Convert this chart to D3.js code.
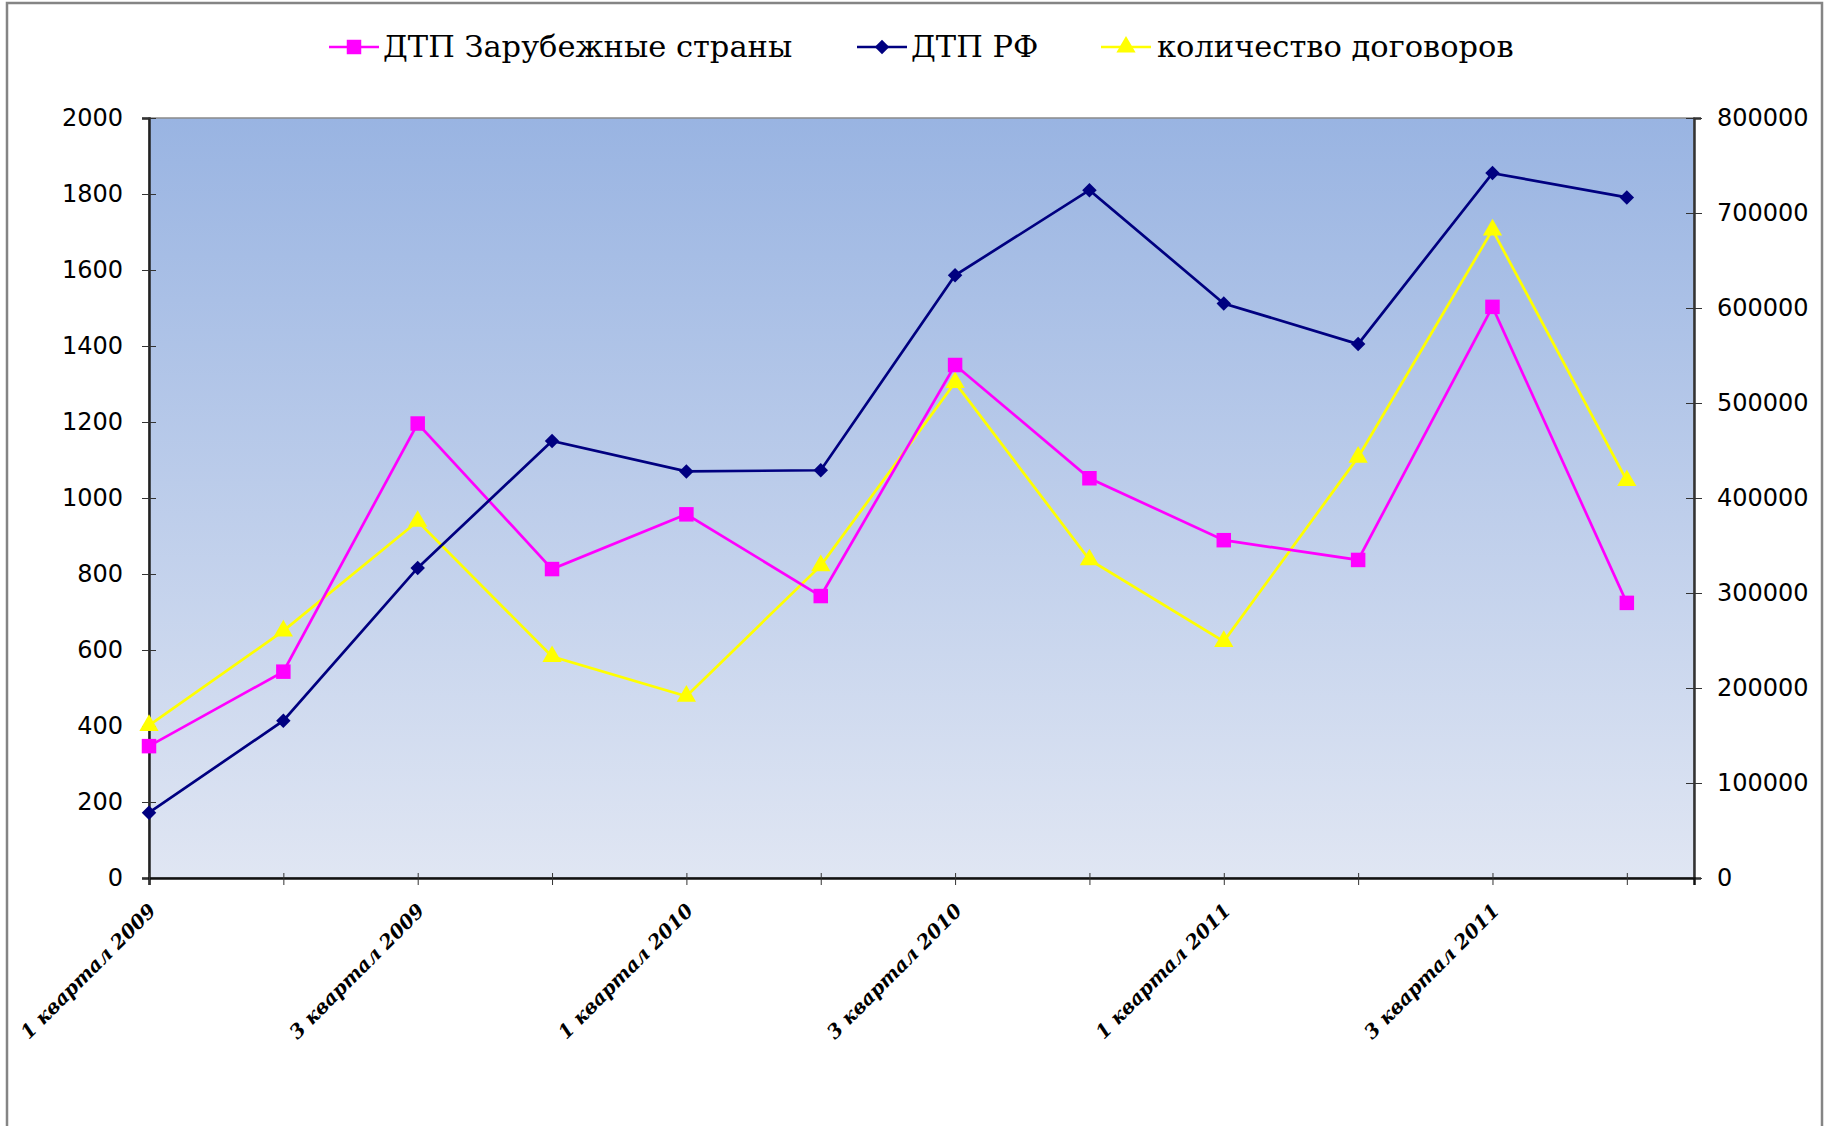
<!DOCTYPE html>
<html>
<head>
<meta charset="utf-8">
<script src="https://cdn.jsdelivr.net/npm/d3@7"></script>
<style>
  body { margin: 0; background: #fff; }
  svg { display: block; }
</style>
</head>
<body>
<div id="chart"></div>
<script>
// categories (quarters)
const kvartaly = [
    "1 квартал 2009", "2 квартал 2009", "3 квартал 2009", "4 квартал 2009",
    "1 квартал 2010", "2 квартал 2010", "3 квартал 2010", "4 квартал 2010",
    "1 квартал 2011", "2 квартал 2011", "3 квартал 2011", "4 квартал 2011"
];

// left axis series
const dtpZarubezh = [347, 543, 1196, 813, 957, 742, 1350, 1052, 889, 837, 1503, 724];
const dtpRF = [172, 414, 816, 1150, 1070, 1073, 1586, 1810, 1512, 1405, 1855, 1791];

// right axis series
const dogovory = [160700, 260100, 375500, 233100, 191400, 328800, 521500, 335000, 249100, 443000, 682200, 418400];

// tick values
const ticksLeft = [0, 200, 400, 600, 800, 1000, 1200, 1400, 1600, 1800, 2000];
const ticksRight = [0, 100000, 200000, 300000, 400000, 500000, 600000, 700000, 800000];

const W = 1829, H = 1126;
const pL = 149, pR = 1694, pT = 118, pB = 878;

const svg = d3.select("#chart")
    .append("svg")
    .attr("width", W)
    .attr("height", H);

// outer frame
svg.append("rect")
   .attr("x", 7).attr("y", 3)
   .attr("width", 1815).attr("height", 1140)
   .attr("fill", "#fff")
   .attr("stroke", "#858585")
   .attr("stroke-width", 2.5);

const defs = svg.append("defs");
const grad = defs.append("linearGradient")
    .attr("id", "bg")
    .attr("x1", 0).attr("y1", 0).attr("x2", 0).attr("y2", 1);
grad.append("stop").attr("offset", "0%").attr("stop-color", "#99b4e2");
grad.append("stop").attr("offset", "100%").attr("stop-color", "#e0e6f3");

const x = d3.scaleLinear()
    .domain([0, 11.5])
    .range([pL, pR]);

const yL = d3.scaleLinear()
    .domain([0, 2000])
    .range([pB, pT]);

const yR = d3.scaleLinear()
    .domain([0, 800000])
    .range([pB, pT]);

// plot area
svg.append("rect")
   .attr("x", pL).attr("y", pT)
   .attr("width", pR - pL).attr("height", pB - pT)
   .attr("fill", "url(#bg)")
   .attr("stroke", "#8a8a8a")
   .attr("stroke-width", 1.5);

const numFont = "'DejaVu Sans', Verdana, sans-serif";

// left axis
const axL = svg.append("g")
   .attr("transform", `translate(${pL},0)`)
   .call(d3.axisLeft(yL).tickValues(ticksLeft).tickFormat(d3.format("d")).tickSize(7).tickPadding(19));
axL.select(".domain").attr("stroke", "#222").attr("stroke-width", 2.5);
axL.selectAll(".tick line").attr("x2", 7).attr("x1", -7).attr("stroke", "#333");
axL.selectAll("text")
   .attr("font-family", numFont).attr("font-size", 24).attr("fill", "#000");

// right axis
const axR = svg.append("g")
   .attr("transform", `translate(${pR},0)`)
   .call(d3.axisRight(yR).tickValues(ticksRight).tickFormat(d3.format("d")).tickSize(7).tickPadding(16));
axR.select(".domain").attr("stroke", "#333").attr("stroke-width", 2.5);
axR.selectAll(".tick line").attr("x1", -8).attr("x2", 8).attr("stroke", "#333");
axR.selectAll("text")
   .attr("font-family", numFont).attr("font-size", 24).attr("fill", "#000");

// bottom axis
const axB = svg.append("g")
   .attr("transform", `translate(0,${pB})`)
   .call(d3.axisBottom(x).tickValues(d3.range(kvartaly.length)).tickSize(7).tickFormat(""));
axB.select(".domain").attr("stroke", "#111").attr("stroke-width", 2.5);
axB.selectAll(".tick line").attr("y1", -5).attr("y2", 7).attr("stroke", "#333");

svg.append("g")
   .selectAll("text")
   .data(kvartaly.filter((d, i) => i % 2 === 0))
   .enter()
   .append("text")
   .attr("transform", d => `translate(${x(kvartaly.indexOf(d)) + 8},${pB + 34}) rotate(-45)`)
   .attr("text-anchor", "end")
   .attr("font-family", "'DejaVu Serif', serif")
   .attr("font-weight", "bold")
   .attr("font-style", "italic")
   .attr("font-size", 19.5)
   .text(d => d);

// series
const series = [
    { name: "ДТП Зарубежные страны", values: dtpZarubezh, scale: yL, color: "#ff00ff", symbol: d3.symbolSquare, size: 210, rot: 0 },
    { name: "ДТП РФ", values: dtpRF, scale: yL, color: "#000080", symbol: d3.symbolSquare, size: 105, rot: 45 },
    { name: "количество договоров", values: dogovory, scale: yR, color: "#ffff00", symbol: d3.symbolTriangle, size: 160, rot: 0 }
];

const drawOrder = [2, 0, 1];
drawOrder.forEach(k => {
    const s = series[k];
    const line = d3.line()
        .x((d, i) => x(i))
        .y(d => s.scale(d));
    svg.append("path")
       .datum(s.values)
       .attr("d", line)
       .attr("fill", "none")
       .attr("stroke", s.color)
       .attr("stroke-width", 2.7);
    svg.append("g")
       .selectAll("path")
       .data(s.values)
       .enter()
       .append("path")
       .attr("d", d3.symbol().type(s.symbol).size(s.size))
       .attr("transform", (d, i) => `translate(${x(i)},${s.scale(d)}) rotate(${s.rot})`)
       .attr("fill", s.color);
});

// legend
const legendPos = [
    { lx: 329, tx: 383 },
    { lx: 857, tx: 911 },
    { lx: 1101, tx: 1157 }
];
const legend = svg.append("g");
series.forEach((s, k) => {
    const p = legendPos[k];
    legend.append("line")
       .attr("x1", p.lx).attr("x2", p.lx + 50)
       .attr("y1", 47).attr("y2", 47)
       .attr("stroke", s.color)
       .attr("stroke-width", 2.7);
    legend.append("path")
       .attr("d", d3.symbol().type(s.symbol).size(s.size))
       .attr("transform", `translate(${p.lx + 25},47) rotate(${s.rot})`)
       .attr("fill", s.color);
    legend.append("text")
       .attr("x", p.tx).attr("y", 57)
       .attr("font-family", "'DejaVu Serif', serif")
       .attr("font-size", 30.5)
       .attr("fill", "#000")
       .text(s.name);
});
</script>
</body>
</html>
